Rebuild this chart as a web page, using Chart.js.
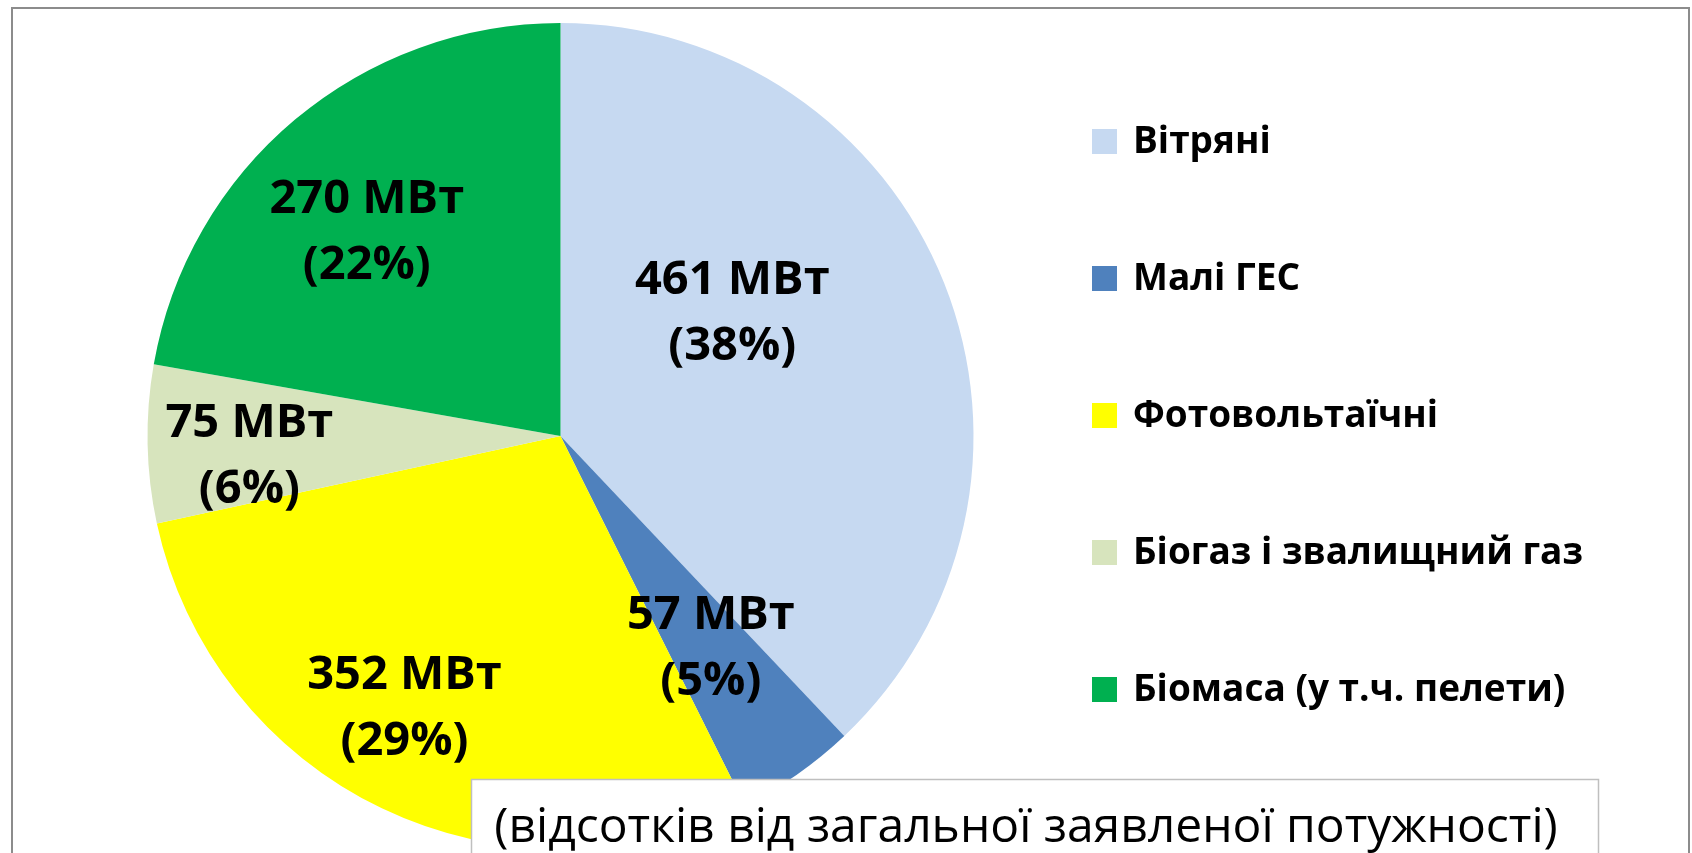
<!DOCTYPE html>
<html>
<head>
<meta charset="utf-8">
<script src="https://cdn.jsdelivr.net/npm/chart.js@4.4.1/dist/chart.umd.min.js"></script>
<style>
  html, body { margin: 0; padding: 0; background: #ffffff; overflow: hidden; }
  #wrap { position: relative; width: 1692px; height: 853px; }
  canvas { display: block; }
</style>
</head>
<body>
<div id="wrap"><canvas id="c" width="1692" height="853"></canvas></div>
<script>
// ---- data ----
const categories = ["Вітряні", "Малі ГЕС", "Фотовольтаїчні", "Біогаз і звалищний газ", "Біомаса (у т.ч. пелети)"];
const capacityMW = [461, 57, 352, 75, 270];
const sharePct = [38, 5, 29, 6, 22];
const unitLabel = "МВт";
const noteText = "(відсотків від загальної заявленої потужності)";

// ---- styles ----
const sliceColors = ["#C6D9F1", "#4F81BD", "#FFFF00", "#D7E4BD", "#00B050"];
const FONT = "'Open Sans', 'Noto Sans', 'DejaVu Sans', sans-serif";

// label placement inside each slice: fraction of angular span, fraction of radius
const labelPlacement = [
  { a: 0.40, r: 0.51 },
  { a: 0.48, r: 0.63 },
  { a: 0.54, r: 0.76 },
  { a: 0.38, r: 0.755 },
  { a: 0.455, r: 0.68 }
];

const dataLabelsPlugin = {
  id: 'dataLabels',
  afterDatasetsDraw(chart) {
    const ctx = chart.ctx;
    const meta = chart.getDatasetMeta(0);
    ctx.save();
    ctx.fillStyle = '#000000';
    ctx.font = "bold 47px " + FONT;
    ctx.textAlign = 'center';
    ctx.textBaseline = 'middle';
    meta.data.forEach((arc, i) => {
      const p = labelPlacement[i];
      const ang = arc.startAngle + (arc.endAngle - arc.startAngle) * p.a;
      const rr = arc.outerRadius * p.r;
      const x = arc.x + Math.cos(ang) * rr;
      const y = arc.y + Math.sin(ang) * rr;
      const v = chart.data.datasets[0].data[i];
      ctx.fillText(v + " " + unitLabel, x, y - 33);
      ctx.fillText("(" + sharePct[i] + "%)", x, y + 33);
    });
    ctx.restore();
  }
};

const decorPlugin = {
  id: 'decor',
  afterDraw(chart) {
    const ctx = chart.ctx;
    ctx.save();
    // outer frame (bottom edge cut off by the picture)
    ctx.strokeStyle = '#8C8C8C';
    ctx.lineWidth = 2;
    ctx.beginPath();
    ctx.moveTo(12, 870);
    ctx.lineTo(12, 8);
    ctx.lineTo(1689, 8);
    ctx.lineTo(1689, 870);
    ctx.stroke();

    // legend
    const labels = chart.data.labels;
    const colors = chart.data.datasets[0].backgroundColor;
    ctx.font = "bold 37px " + FONT;
    ctx.textAlign = 'left';
    ctx.textBaseline = 'middle';
    labels.forEach((lab, i) => {
      const cy = 141.5 + i * 137;
      ctx.fillStyle = colors[i];
      ctx.fillRect(1092, cy - 12.5, 25, 25);
      ctx.fillStyle = '#000000';
      ctx.fillText(lab, 1133, cy + 1);
    });

    // note box
    ctx.fillStyle = '#FFFFFF';
    ctx.fillRect(471, 779, 1128, 100);
    ctx.strokeStyle = '#BFBFBF';
    ctx.lineWidth = 1.5;
    ctx.beginPath();
    ctx.moveTo(471.5, 880);
    ctx.lineTo(471.5, 779.5);
    ctx.lineTo(1598.5, 779.5);
    ctx.lineTo(1598.5, 880);
    ctx.stroke();
    ctx.fillStyle = '#000000';
    ctx.font = "48px " + FONT;
    ctx.textAlign = 'center';
    ctx.textBaseline = 'alphabetic';
    ctx.fillText(noteText, 1026, 842);
    ctx.restore();
  }
};

new Chart(document.getElementById('c'), {
  type: 'pie',
  data: {
    labels: categories,
    datasets: [{
      data: capacityMW,
      backgroundColor: sliceColors,
      borderWidth: 0
    }]
  },
  options: {
    responsive: false,
    animation: false,
    layout: { padding: { left: 147.5, top: 23, right: 718.5, bottom: 4 } },
    plugins: {
      legend: { display: false },
      tooltip: { enabled: false },
      title: { display: false }
    }
  },
  plugins: [dataLabelsPlugin, decorPlugin]
});
</script>
</body>
</html>
